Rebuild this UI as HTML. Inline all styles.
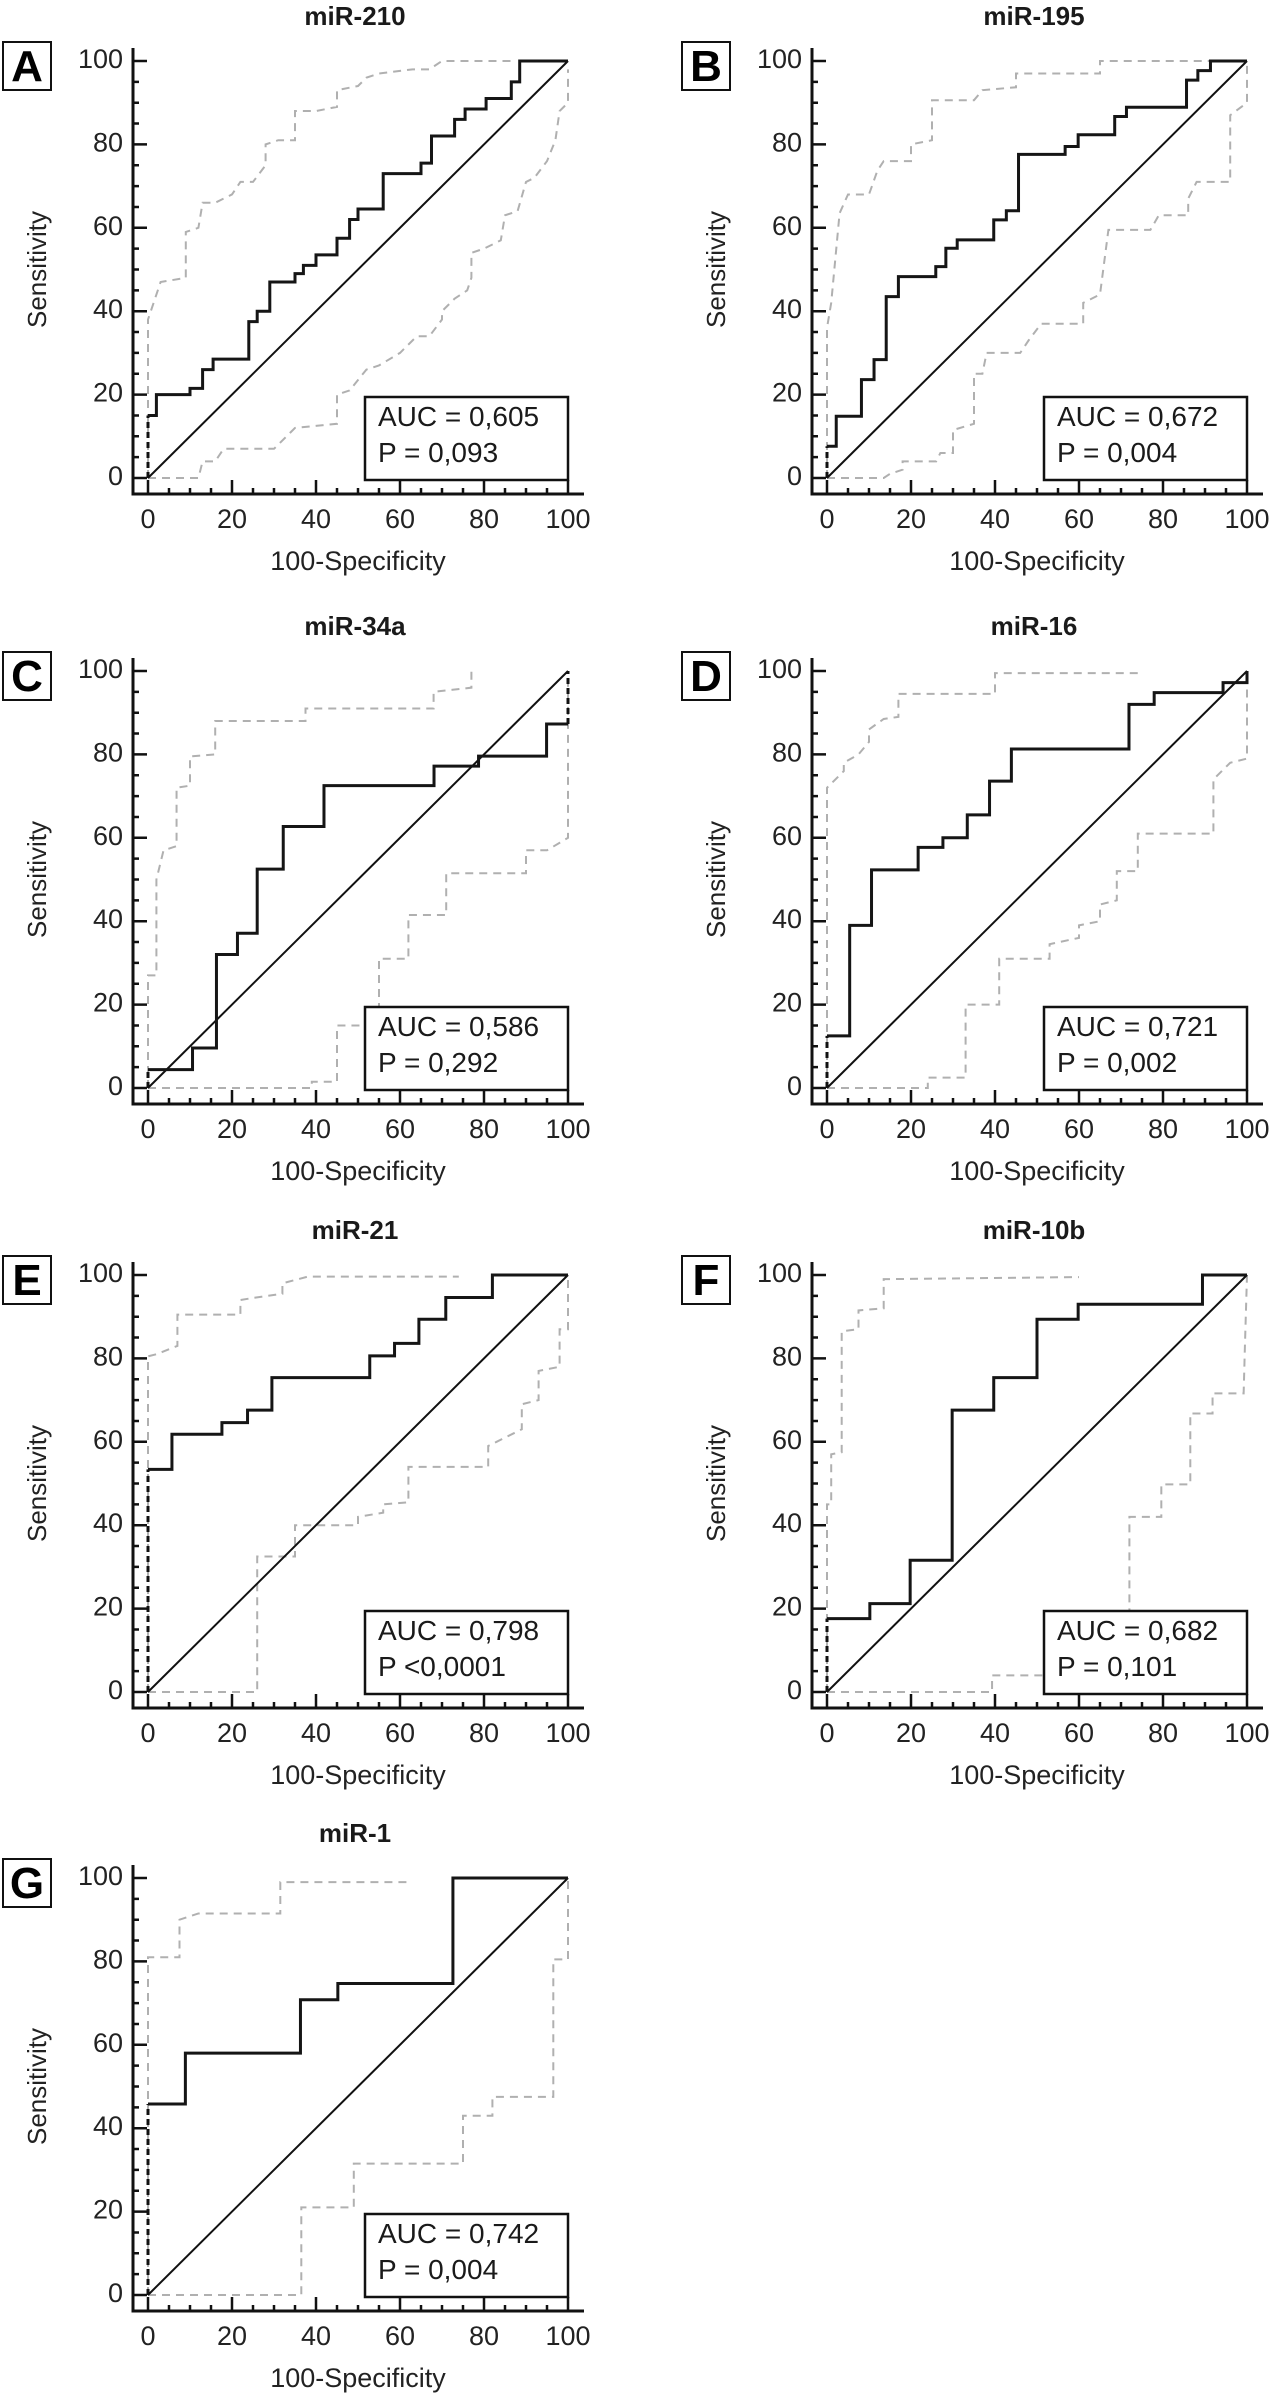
<!DOCTYPE html>
<html><head><meta charset="utf-8"><title>ROC curves</title>
<style>
html,body{margin:0;padding:0;background:#fff;}
svg{display:block;font-family:"Liberation Sans",Arial,sans-serif;}
</style></head>
<body>
<svg id="fig" width="1277" height="2396" viewBox="0 0 1277 2396" xmlns="http://www.w3.org/2000/svg"></svg>
<script>
// ---- data ----
const titles = ["miR-210","miR-195","miR-34a","miR-16","miR-21","miR-10b","miR-1"];
const letters = ["A","B","C","D","E","F","G"];
const aucLabels = ["AUC = 0,605","AUC = 0,672","AUC = 0,586","AUC = 0,721","AUC = 0,798","AUC = 0,682","AUC = 0,742"];
const pLabels = ["P = 0,093","P = 0,004","P = 0,292","P = 0,002","P <0,0001","P = 0,101","P = 0,004"];
const tickValues = [0,20,40,60,80,100];

const rocA_x = [0,2,10,13,15.5,24,26,29,35,37,40,45,48,50,56,65,67.5,73,75.5,80.5,86.5,88.5,100];
const rocA_y = [15,20,21.5,26,28.5,37.5,40,47,49,51,53.5,57.5,62,64.5,73,75.5,82,86,88.5,91,95,100,100];
const rocB_x = [0,2.2,8.2,11.2,14.1,17,25.9,28.3,31,39.7,42.7,45.6,56.7,59.8,68.5,71.3,85.6,88.3,91.3,100];
const rocB_y = [7.6,14.8,23.6,28.4,43.5,48.3,50.7,55.1,57.1,61.9,64.1,77.6,79.5,82.3,86.7,88.9,95.4,97.7,100,100];
const rocC_x = [0,10.6,16.3,21.3,26,32.2,41.9,68.1,78.7,94.9,100];
const rocC_y = [4.4,9.6,32,37.1,52.5,62.7,72.5,77.2,79.6,87.3,87.3];
const rocD_x = [0,5.4,10.6,21.7,27.6,33.4,38.7,43.9,71.9,77.9,94.3,100];
const rocD_y = [12.5,39,52.3,57.7,60,65.5,73.6,81.3,92,94.8,97.2,100];
const rocE_x = [0,5.7,17.6,23.7,29.5,52.8,58.7,64.5,70.9,82,100];
const rocE_y = [53.4,61.8,64.6,67.6,75.4,80.6,83.6,89.4,94.6,100,100];
const rocF_x = [0,10.2,19.8,29.8,39.7,50,59.8,89.4,100];
const rocF_y = [17.6,21.2,31.6,67.6,75.4,89.4,93,100,100];
const rocG_x = [0,8.9,36.3,45.2,72.6,100];
const rocG_y = [45.8,58,70.8,74.7,100,100];

const upA_x = [0,0,3,9,9,12,13,16,20,22,25,28,28,31,35,35,40,45,45,50,52,55,63,67,70,87];
const upA_y = [0,38,47,48,59,60,66,66,68,71,71,75,80,81,81,88,88,89,93,94,96,97,98,98,100,100];
const loA_x = [0,12,13,16,18,30,34,35,45,45,48,52,55,60,64,67,70,70,73,76,77,77,80,84,85,88,90,92,95,97,98,100,100];
const loA_y = [0,0,4,4,7,7,11,12,13,20,21,26,27,30,34,34,38,40,43,45,48,54,55,57,63,64,71,72,76,81,88,90,98];
const upB_x = [0,0,1,3,5,10,12,13.5,20,20,25,25,35,37,45,45,65,65,100];
const upB_y = [0,36,42,63.5,68,68,73.7,76,76,80,81,90.6,90.6,93,93.7,97,97,100,100];
const loB_x = [0,13.5,15,18,18,26,27,30,30,35,35,37,38,46,48,51,61,61,65,67,77,79,86,86,88,96,96,100,100];
const loB_y = [0,0,1,2,4,4,6,6,11.5,13,25,25,30,30,33,37,37,42,44,59.5,59.5,63,63,67,71,71,87,90,100];
const upC_x = [0,0,2,2,3.7,6.8,6.8,10,10,16,16,37.5,37.5,48,68,68,77,77];
const upC_y = [0,27,27,50,57,58,72,72.5,79.5,80,88,88,91,91,91,95,96,100];
const loC_x = [0,39,39,45,45,55,55,62,62,71,71,90,90,95,100,100];
const loC_y = [0,0,1.5,1.5,15,15,31,31,41.5,41.5,51.5,51.5,57,57,60,100];
const upD_x = [0,0,4,4,7.5,10,10,13.5,17,17,40,40,75];
const upD_y = [0,72,76,78,80,83,86,88.5,89,94.5,94.5,99.5,99.5];
const loD_x = [0,24,24,33,33,41,41,53,53,60,60,65,65,69,69,74,74,92,92,96,100,100];
const loD_y = [0,0,2.5,2.5,20,20,31,31,34.5,36,39,40,44,45,52,52,61,61,74,78,79,100];
const upE_x = [0,0,2,7,7,22,22,25,32,32,38,74];
const upE_y = [0,80.5,81,83,90.5,90.5,94,94.5,95.5,98,99.6,99.6];
const loE_x = [0,26,26,35,35,50,50,56,56,62,62,81,81,83,89,89,93,93,98,98,100,100];
const loE_y = [0,0,32.5,32.5,40,40,42,43,45,45.5,54,54,59,60,63,69,70,77,78,87,87,100];
const upF_x = [0,0,1,1,3.5,3.5,7.5,7.5,13.5,13.5,60];
const upF_y = [0,45,45,57,57.5,86.5,87,91.5,92,99,99.5];
const loF_x = [0,39.3,39.3,72,72,79.6,79.6,86.5,86.5,91.8,91.8,99.2,99.5,100];
const loF_y = [0,0,4,4,42,42,49.8,49.8,66.8,66.8,71.6,71.6,82.8,100];
const upG_x = [0,0,7.5,7.5,12,31.5,31.5,62];
const upG_y = [0,81,81,90,91.5,91.5,99,99];
const loG_x = [0,36.5,36.5,49,49,75,75,82,82,96.5,96.5,100,100];
const loG_y = [0,0,21,21,31.5,31.5,43,43,47.5,47.5,80.5,80.5,100];

const rocXs = [rocA_x,rocB_x,rocC_x,rocD_x,rocE_x,rocF_x,rocG_x];
const rocYs = [rocA_y,rocB_y,rocC_y,rocD_y,rocE_y,rocF_y,rocG_y];
const upXs = [upA_x,upB_x,upC_x,upD_x,upE_x,upF_x,upG_x];
const upYs = [upA_y,upB_y,upC_y,upD_y,upE_y,upF_y,upG_y];
const loXs = [loA_x,loB_x,loC_x,loD_x,loE_x,loF_x,loG_x];
const loYs = [loA_y,loB_y,loC_y,loD_y,loE_y,loF_y,loG_y];

// ---- layout ----
const colX0 = [148, 827];
const rowTop = [61, 671, 1275, 1878];
const PW = 420, PH = 417;
const NS = "http://www.w3.org/2000/svg";
const svg = document.getElementById("fig");

function mk(tag, attrs, parent){
  const e = document.createElementNS(NS, tag);
  for (const k in attrs) e.setAttribute(k, attrs[k]);
  (parent||svg).appendChild(e);
  return e;
}

for (let p = 0; p < 7; p++) {
  const x0 = colX0[p % 2], top = rowTop[Math.floor(p / 2)], y0 = top + PH;
  const sx = v => x0 + v / 100 * PW;
  const sy = v => y0 - v / 100 * PH;
  const g = mk("g", {});
  
  

  // title
  const t = mk("text", {x: x0 + PW/2 - 3, y: top - 36, "font-size": 26, "font-weight": "bold", "text-anchor": "middle", fill: "#1a1a1a"}, g);
  t.textContent = titles[p];
  
  

  // letter box
  const lb = mk("rect", {x: x0 - 145, y: top - 19, width: 48, height: 48, fill: "#fff", stroke: "#111", "stroke-width": 2}, g);
  
  
  const lt = mk("text", {x: x0 - 121, y: top + 20, "font-size": 44, "font-weight": "bold", "text-anchor": "middle", fill: "#000"}, g);
  lt.textContent = letters[p];
  
  

  // axes
  const axX = x0 - 15, axY = y0 + 16;
  const ax = mk("path", {d: `M${axX},${top-13} V${axY} H${x0+PW+16}`, fill: "none", stroke: "#111", "stroke-width": 3}, g);
  
  
  let ticks = "";
  for (let v = 0; v <= 100; v += 5) {
    const major = v % 20 === 0;
    const L = major ? 14 : 6;
    ticks += `M${axX},${sy(v)} h${L} M${sx(v)},${axY} v${-L} `;
  }
  const tk = mk("path", {d: ticks, stroke: "#111", "stroke-width": 2.5, fill: "none"}, g);
  
  
  tickValues.forEach(v => {
    const yl = mk("text", {x: x0 - 25, y: sy(v) + 7, "font-size": 27, "text-anchor": "end", fill: "#222"}, g);
    yl.textContent = v;
    
    
    const xl = mk("text", {x: sx(v), y: y0 + 50, "font-size": 27, "text-anchor": "middle", fill: "#222"}, g);
    xl.textContent = v;
    
    
  });
  const xt = mk("text", {x: x0 + PW/2, y: y0 + 92, "font-size": 27, "text-anchor": "middle", fill: "#222"}, g);
  xt.textContent = "100-Specificity";
  
  
  const yt = mk("text", {x: 0, y: 0, "font-size": 26, "text-anchor": "middle", fill: "#222", transform: `translate(${x0-102},${top+PH/2}) rotate(-90)`}, g);
  yt.textContent = "Sensitivity";
  
  

  // CI bands
  const poly = (xs, ys) => xs.map((v, i) => (i ? "L" : "M") + sx(v) + "," + sy(ys[i])).join(" ");
  const up = mk("path", {d: poly(upXs[p], upYs[p]), fill: "none", stroke: "#b0b0b0", "stroke-width": 2, "stroke-dasharray": "8,6"}, g);
  
  
  const lo = mk("path", {d: poly(loXs[p], loYs[p]), fill: "none", stroke: "#b0b0b0", "stroke-width": 2, "stroke-dasharray": "8,6"}, g);
  
  

  // diagonal
  const dg = mk("line", {x1: sx(0), y1: sy(0), x2: sx(100), y2: sy(100), stroke: "#111", "stroke-width": 2}, g);
  
  

  // ROC curve
  const xs = rocXs[p], ys = rocYs[p];
  const ds = mk("line", {x1: sx(0), y1: sy(0), x2: sx(xs[0]), y2: sy(ys[0]), stroke: "#111", "stroke-width": 3, "stroke-dasharray": "6,4"}, g);
  
  
  let d = `M${sx(xs[0])},${sy(ys[0])}`;
  for (let i = 1; i < xs.length; i++) d += ` H${sx(xs[i])} V${sy(ys[i])}`;
  const rc = mk("path", {d: d, fill: "none", stroke: "#151515", "stroke-width": 3}, g);
  
  
  const lastY = ys[ys.length - 1];
  if (lastY < 100) {
    const de = mk("line", {x1: sx(100), y1: sy(lastY), x2: sx(100), y2: sy(100), stroke: "#111", "stroke-width": 3, "stroke-dasharray": "6,4"}, g);
    
    
  }

  // AUC box
  const bx = mk("rect", {x: x0 + 217, y: y0 - 81, width: 203, height: 83, fill: "#fff", stroke: "#111", "stroke-width": 2.5}, g);
  
  
  const a1 = mk("text", {x: x0 + 230, y: y0 - 52, "font-size": 28, fill: "#1a1a1a"}, g);
  a1.textContent = aucLabels[p];
  
  
  const a2 = mk("text", {x: x0 + 230, y: y0 - 16, "font-size": 28, fill: "#1a1a1a"}, g);
  a2.textContent = pLabels[p];
  
  
}
</script>
</body></html>
